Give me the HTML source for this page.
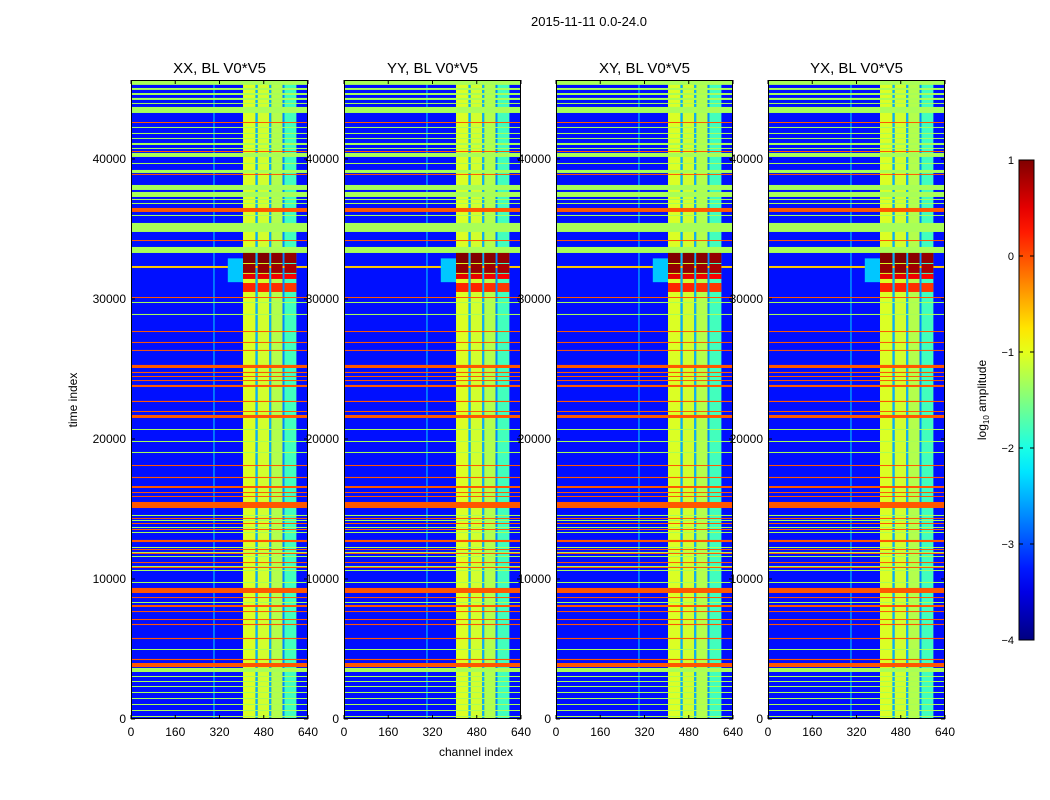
<!DOCTYPE html>
<html><head><meta charset="utf-8">
<style>
html,body{margin:0;padding:0;background:#fff;}
svg{display:block;font-family:"Liberation Sans",sans-serif;}
</style></head>
<body>
<svg id="fig" width="1050" height="800" viewBox="0 0 1050 800" xmlns="http://www.w3.org/2000/svg">
<rect width="1050" height="800" fill="#fff"/>
<text x="589" y="26" font-size="13" text-anchor="middle">2015-11-11 0.0-24.0</text>
<text x="476" y="756" font-size="12" text-anchor="middle">channel index</text>
<text x="0" y="0" font-size="12" text-anchor="middle" transform="translate(77,400) rotate(-90)">time index</text>
<g id="panels"></g>
<g id="cbar"></g>
</svg>
<script>
// ---- data ----
const panelTitles = ["XX, BL V0*V5","YY, BL V0*V5","XY, BL V0*V5","YX, BL V0*V5"];
const xTicks = [0,160,320,480,640];
const yTicks = [0,10000,20000,30000,40000];
const cbTicks = [1,0,-1,-2,-3,-4];
const bgValue = -3.3;
// channel bands [c0,c1,log10 amplitude]
const chanBands = [[298,302,-2.4],[405,450,-1.05],[450,458,-2.5],[458,500,-1.1],[500,507,-2.5],[507,548,-1.25],[548,555,-2.7],[555,598,-1.8]];
// full-width green stripes [t0,t1]
const greenStripes = [[45290,45640],[44930,45070],[44570,44710],[44215,44360],[43930,44000],[43286,43715],[42215,42286],[41786,41857],[41430,41500],[41000,41143],[40715,40786],[40143,40430],[39643,39714],[39000,39215],[37786,38143],[37286,37643],[37072,37143],[36786,36857],[35930,36000],[34786,35430],[33286,33715],[29715,29786],[28857,28930],[20643,20714],[19786,19857],[19000,19072],[14500,14572],[14143,14215],[13643,13715],[13286,13357],[12215,12286],[11857,11930],[11572,11643],[10857,10930],[10572,10643],[9715,9786],[8286,8357],[4930,5000],[3357,3643],[3000,3072],[2643,2715],[2286,2357],[1857,1930],[1430,1500],[1000,1072],[572,643],[143,214]];
const greenValue = -1.3;
// full-width orange stripes [t0,t1]
const orangeStripes = [[42570,42640],[40500,40570],[38860,38930],[36215,36500],[34140,34210],[30070,30140],[27640,27710],[26860,26930],[26290,26360],[25070,25290],[24710,24790],[24430,24500],[24140,24210],[23715,23860],[22640,22720],[21930,22000],[21500,21715],[18070,18140],[17210,17290],[16500,16640],[16140,16210],[15860,15930],[15070,15500],[14290,14360],[13930,14000],[13500,13570],[12640,12790],[12070,12140],[11790,11860],[11140,11210],[10790,10860],[9000,9360],[8640,8710],[8000,8140],[7640,7710],[7070,7140],[6710,6790],[5710,5790],[4210,4290],[3710,4000]];
const orangeValue = -0.05;
// yellow line across all channels
const yellowStripes = [[32215,32357]];
const yellowValue = -0.6;
// RFI patches [c0,c1,t0,t1,value]
const rfiPatches = [[350,405,31200,32900,-2.4],[405,450,32570,33290,1.0],[458,500,32570,33290,1.0],[507,548,32570,33290,0.95],[555,598,32570,33290,0.9],
 [405,450,31860,32500,0.9],[458,500,31860,32500,0.9],[507,548,31860,32500,0.85],[555,598,31860,32500,0.8],
 [405,450,31430,31790,0.5],[458,500,31430,31790,0.5],[507,548,31430,31790,0.45],[555,598,31430,31790,0.4],
 [405,450,30500,31140,0.2],[458,500,30500,31140,0.2],[507,548,30500,31140,0.15],[555,598,30500,31140,0.1]];

// ---- layout ----
const panelX = [131,344,556,768];
const panelW = 177, panelTop = 80, panelBot = 719;
const tMax = 45640, cMax = 640, vMin = -4, vMax = 1;
const NS = "http://www.w3.org/2000/svg";
function jet(v){
  const x = Math.max(0,Math.min(1,(v-vMin)/(vMax-vMin)));
  const c = t => Math.round(255*Math.max(0,Math.min(1,1.5-Math.abs(4*x-t))));
  return `rgb(${c(3)},${c(2)},${c(1)})`;
}
function mk(tag, attrs, parent){
  const e = document.createElementNS(NS, tag);
  for (const k in attrs) e.setAttribute(k, attrs[k]);
  parent.appendChild(e); return e;
}
const root = document.getElementById('panels');
panelX.forEach((px, pi) => {
  const xs = c => px + c/cMax*panelW;
  const ys = t => panelBot - t/tMax*(panelBot-panelTop);
  const g = mk('g', {}, root);
  
  
  const bg = mk('rect', {x:px, y:panelTop, width:panelW, height:panelBot-panelTop, fill:jet(bgValue)}, g);
  
  
  chanBands.forEach(b => {
    const r = mk('rect', {x:xs(b[0]), y:panelTop, width:xs(b[1])-xs(b[0]), height:panelBot-panelTop, fill:jet(b[2])}, g);
    
    
  });
  const stripes = (arr, val, name) => arr.forEach(s => {
    const r = mk('rect', {x:px, y:ys(s[1]), width:panelW, height:Math.max(1,ys(s[0])-ys(s[1])), fill:jet(val)}, g);
    
    
  });
  stripes(greenStripes, greenValue, 'green-stripe');
  stripes(orangeStripes, orangeValue, 'orange-stripe');
  stripes(yellowStripes, yellowValue, 'yellow-stripe');
  rfiPatches.forEach(p => {
    const r = mk('rect', {x:xs(p[0]), y:ys(p[3]), width:xs(p[1])-xs(p[0]), height:ys(p[2])-ys(p[3]), fill:jet(p[4])}, g);
    
    
  });
  const fr = mk('rect', {x:px+0.5, y:panelTop+0.5, width:panelW-1, height:panelBot-panelTop-1, fill:'none', stroke:'#000', 'stroke-width':1}, g);
  
  
  const tt = mk('text', {x:px+panelW/2, y:73, 'font-size':15, 'text-anchor':'middle'}, g);
  tt.textContent = panelTitles[pi];
  
  
  xTicks.forEach(c => {
    const x = xs(c);
    mk('line', {x1:x, x2:x, y1:panelBot, y2:panelBot-4, stroke:'#000'}, g);
    mk('line', {x1:x, x2:x, y1:panelTop, y2:panelTop+4, stroke:'#000'}, g);
    const t = mk('text', {x:x, y:736, 'font-size':12, 'text-anchor':'middle'}, g);
    t.textContent = c;
    
    
  });
  yTicks.forEach(v => {
    const y = ys(v);
    mk('line', {x1:px, x2:px+4, y1:y, y2:y, stroke:'#000'}, g);
    mk('line', {x1:px+panelW, x2:px+panelW-4, y1:y, y2:y, stroke:'#000'}, g);
    const t = mk('text', {x:px-5, y:y+4, 'font-size':12, 'text-anchor':'end'}, g);
    t.textContent = v;
    
    
  });
});
// colorbar
const cb = document.getElementById('cbar');
const cbX = 1019, cbW = 15, cbTop = 160, cbBot = 640;
const defs = mk('defs', {}, cb);
const grad = mk('linearGradient', {id:'jetg', x1:0, y1:1, x2:0, y2:0}, defs);
for (let i = 0; i <= 20; i++) {
  mk('stop', {offset:(i/20), 'stop-color':jet(vMin + (vMax-vMin)*i/20)}, grad);
}
mk('rect', {x:cbX, y:cbTop, width:cbW, height:cbBot-cbTop, fill:'url(#jetg)', stroke:'#000'}, cb);
cbTicks.forEach(v => {
  const y = cbBot - (v - vMin)/(vMax - vMin)*(cbBot - cbTop);
  mk('line', {x1:cbX, x2:cbX+4, y1:y, y2:y, stroke:'#000'}, cb);
  mk('line', {x1:cbX+cbW, x2:cbX+cbW-4, y1:y, y2:y, stroke:'#000'}, cb);
  const t = mk('text', {x:cbX-5, y:y+4, 'font-size':11, 'text-anchor':'end'}, cb);
  t.textContent = v < 0 ? '\u2212' + (-v) : String(v);
  
  
});
const cl = mk('text', {x:0, y:0, 'font-size':12, 'text-anchor':'middle', transform:'translate(986,400) rotate(-90)'}, cb);
cl.innerHTML = 'log<tspan font-size="8" dy="3">10</tspan><tspan dy="-3"> amplitude</tspan>';


</script>
</body></html>
